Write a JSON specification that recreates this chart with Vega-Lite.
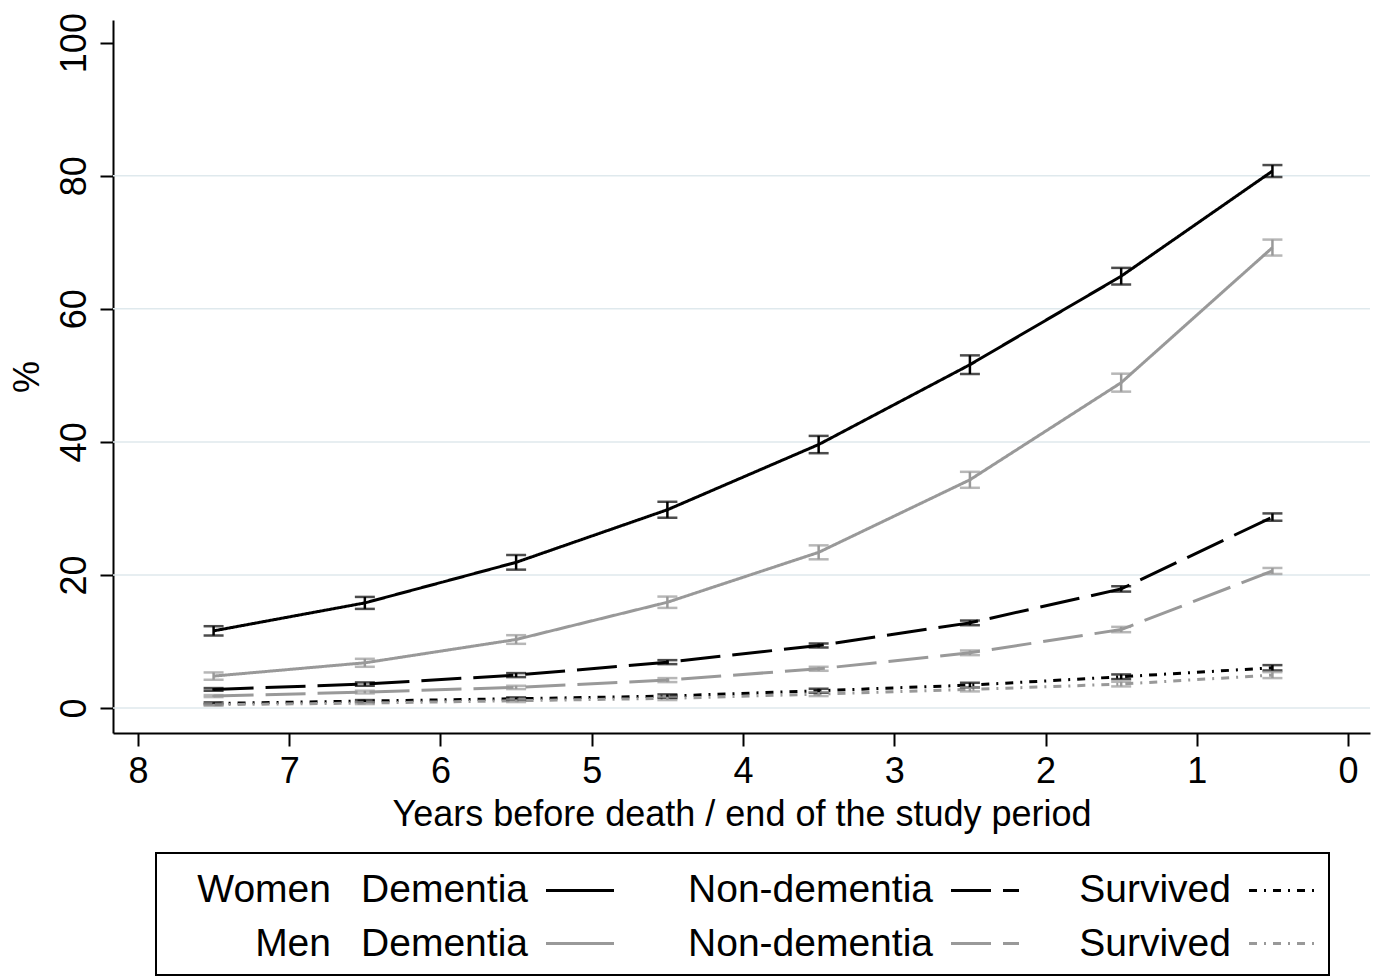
{
  "$schema": "https://vega.github.io/schema/vega-lite/v6.json",
  "background": "white",
  "padding": {"left": 9, "top": 12, "right": 0, "bottom": 0},
  "config": {
    "font": "Liberation Sans",
    "view": {"stroke": null},
    "axis": {
      "labelFontSize": 36, "titleFontSize": 36, "titleFontWeight": "normal",
      "labelColor": "black", "titleColor": "black",
      "domainColor": "black", "domainWidth": 2,
      "tickColor": "black", "tickWidth": 2, "tickSize": 13,
      "grid": false, "labelFlush": false, "labelOverlap": false
    }
  },
  "datasets": {
    "series": [
      {"sex": "Women", "group": "Dementia", "x": 7.5, "y": 11.6, "lo": 10.9, "hi": 12.3},
      {"sex": "Women", "group": "Dementia", "x": 6.5, "y": 15.8, "lo": 14.9, "hi": 16.7},
      {"sex": "Women", "group": "Dementia", "x": 5.5, "y": 21.9, "lo": 20.8, "hi": 23.0},
      {"sex": "Women", "group": "Dementia", "x": 4.5, "y": 29.8, "lo": 28.6, "hi": 31.0},
      {"sex": "Women", "group": "Dementia", "x": 3.5, "y": 39.6, "lo": 38.3, "hi": 40.9},
      {"sex": "Women", "group": "Dementia", "x": 2.5, "y": 51.6, "lo": 50.2, "hi": 53.0},
      {"sex": "Women", "group": "Dementia", "x": 1.5, "y": 64.9, "lo": 63.65, "hi": 66.15},
      {"sex": "Women", "group": "Dementia", "x": 0.5, "y": 80.7, "lo": 79.8, "hi": 81.6},
      {"sex": "Men", "group": "Dementia", "x": 7.5, "y": 4.8, "lo": 4.25, "hi": 5.35},
      {"sex": "Men", "group": "Dementia", "x": 6.5, "y": 6.8, "lo": 6.2, "hi": 7.4},
      {"sex": "Men", "group": "Dementia", "x": 5.5, "y": 10.3, "lo": 9.65, "hi": 10.95},
      {"sex": "Men", "group": "Dementia", "x": 4.5, "y": 15.9, "lo": 15.05, "hi": 16.75},
      {"sex": "Men", "group": "Dementia", "x": 3.5, "y": 23.4, "lo": 22.35, "hi": 24.45},
      {"sex": "Men", "group": "Dementia", "x": 2.5, "y": 34.3, "lo": 33.1, "hi": 35.5},
      {"sex": "Men", "group": "Dementia", "x": 1.5, "y": 48.9, "lo": 47.55, "hi": 50.25},
      {"sex": "Men", "group": "Dementia", "x": 0.5, "y": 69.2, "lo": 68.0, "hi": 70.4},
      {"sex": "Women", "group": "Non-dementia", "x": 7.5, "y": 2.8, "lo": 2.6, "hi": 3.0},
      {"sex": "Women", "group": "Non-dementia", "x": 6.5, "y": 3.6, "lo": 3.35, "hi": 3.85},
      {"sex": "Women", "group": "Non-dementia", "x": 5.5, "y": 4.95, "lo": 4.65, "hi": 5.25},
      {"sex": "Women", "group": "Non-dementia", "x": 4.5, "y": 6.9, "lo": 6.6, "hi": 7.2},
      {"sex": "Women", "group": "Non-dementia", "x": 3.5, "y": 9.4, "lo": 9.1, "hi": 9.7},
      {"sex": "Women", "group": "Non-dementia", "x": 2.5, "y": 12.8, "lo": 12.45, "hi": 13.15},
      {"sex": "Women", "group": "Non-dementia", "x": 1.5, "y": 17.9, "lo": 17.5, "hi": 18.3},
      {"sex": "Women", "group": "Non-dementia", "x": 0.5, "y": 28.7, "lo": 28.15, "hi": 29.25},
      {"sex": "Men", "group": "Non-dementia", "x": 7.5, "y": 1.8, "lo": 1.65, "hi": 1.95},
      {"sex": "Men", "group": "Non-dementia", "x": 6.5, "y": 2.4, "lo": 2.2, "hi": 2.6},
      {"sex": "Men", "group": "Non-dementia", "x": 5.5, "y": 3.1, "lo": 2.85, "hi": 3.35},
      {"sex": "Men", "group": "Non-dementia", "x": 4.5, "y": 4.2, "lo": 3.9, "hi": 4.5},
      {"sex": "Men", "group": "Non-dementia", "x": 3.5, "y": 5.9, "lo": 5.6, "hi": 6.2},
      {"sex": "Men", "group": "Non-dementia", "x": 2.5, "y": 8.3, "lo": 7.95, "hi": 8.65},
      {"sex": "Men", "group": "Non-dementia", "x": 1.5, "y": 11.8, "lo": 11.4, "hi": 12.2},
      {"sex": "Men", "group": "Non-dementia", "x": 0.5, "y": 20.6, "lo": 20.15, "hi": 21.05},
      {"sex": "Women", "group": "Survived", "x": 7.5, "y": 0.7, "lo": 0.55, "hi": 0.85},
      {"sex": "Women", "group": "Survived", "x": 6.5, "y": 1.05, "lo": 0.9, "hi": 1.2},
      {"sex": "Women", "group": "Survived", "x": 5.5, "y": 1.4, "lo": 1.2, "hi": 1.6},
      {"sex": "Women", "group": "Survived", "x": 4.5, "y": 1.8, "lo": 1.55, "hi": 2.05},
      {"sex": "Women", "group": "Survived", "x": 3.5, "y": 2.6, "lo": 2.3, "hi": 2.9},
      {"sex": "Women", "group": "Survived", "x": 2.5, "y": 3.45, "lo": 3.1, "hi": 3.8},
      {"sex": "Women", "group": "Survived", "x": 1.5, "y": 4.7, "lo": 4.35, "hi": 5.05},
      {"sex": "Women", "group": "Survived", "x": 0.5, "y": 6.05, "lo": 5.65, "hi": 6.45},
      {"sex": "Men", "group": "Survived", "x": 7.5, "y": 0.5, "lo": 0.35, "hi": 0.65},
      {"sex": "Men", "group": "Survived", "x": 6.5, "y": 0.75, "lo": 0.6, "hi": 0.9},
      {"sex": "Men", "group": "Survived", "x": 5.5, "y": 1.1, "lo": 0.9, "hi": 1.3},
      {"sex": "Men", "group": "Survived", "x": 4.5, "y": 1.45, "lo": 1.2, "hi": 1.7},
      {"sex": "Men", "group": "Survived", "x": 3.5, "y": 2.1, "lo": 1.8, "hi": 2.4},
      {"sex": "Men", "group": "Survived", "x": 2.5, "y": 2.8, "lo": 2.5, "hi": 3.1},
      {"sex": "Men", "group": "Survived", "x": 1.5, "y": 3.6, "lo": 3.25, "hi": 3.95},
      {"sex": "Men", "group": "Survived", "x": 0.5, "y": 4.95, "lo": 4.5, "hi": 5.4}
    ],
    "grid": [{"g": 0}, {"g": 20}, {"g": 40}, {"g": 60}, {"g": 80}],
    "legendRows": [{"sex": "Women"}, {"sex": "Men"}],
    "legend": [
      {"sex": "Women", "group": "Dementia", "c": 1},
      {"sex": "Women", "group": "Non-dementia", "c": 2},
      {"sex": "Women", "group": "Survived", "c": 3},
      {"sex": "Men", "group": "Dementia", "c": 1},
      {"sex": "Men", "group": "Non-dementia", "c": 2},
      {"sex": "Men", "group": "Survived", "c": 3}
    ]
  },
  "spacing": 20,
  "resolve": {"scale": {"x": "independent", "y": "independent"}},
  "vconcat": [
    {
      "width": 1257,
      "height": 713,
      "layer": [
        {
          "data": {"name": "grid"},
          "mark": {"type": "rule", "color": "#dfe9ed", "strokeWidth": 1.5},
          "encoding": {
            "y": {"field": "g", "type": "quantitative", "title": "%"}
          }
        },
        {
          "data": {"name": "series"},
          "mark": {"type": "line", "strokeWidth": 3},
          "encoding": {
            "x": {
              "field": "x", "type": "quantitative",
              "scale": {"domain": [-0.145, 8.165], "reverse": true, "nice": false, "zero": false},
              "axis": {"values": [0, 1, 2, 3, 4, 5, 6, 7, 8], "format": "d", "labelPadding": 8, "titlePadding": 8},
              "title": "Years before death / end of the study period"
            },
            "y": {
              "field": "y", "type": "quantitative",
              "scale": {"domain": [-3.75, 103.4], "nice": false, "zero": false},
              "axis": {"values": [0, 20, 40, 60, 80, 100], "format": "d", "labelAngle": 270, "labelAlign": "center", "labelBaseline": "alphabetic", "labelPadding": 15, "titlePadding": 10},
              "title": "%"
            },
            "color": {
              "field": "sex", "type": "nominal",
              "scale": {"domain": ["Women", "Men"], "range": ["#000000", "#999999"]},
              "legend": null
            },
            "strokeDash": {
              "field": "group", "type": "nominal",
              "scale": {"domain": ["Dementia", "Non-dementia", "Survived"], "range": [[1, 0], [40, 12], [8, 7, 2, 7]]},
              "legend": null
            },
            "order": {"field": "x", "sort": "descending"}
          }
        },
        {
          "data": {"name": "series"},
          "mark": {"type": "errorbar", "ticks": {"size": 20, "thickness": 2.5}, "rule": {"strokeWidth": 2.5}},
          "encoding": {
            "x": {"field": "x", "type": "quantitative", "title": "Years before death / end of the study period"},
            "y": {"field": "lo", "type": "quantitative", "title": "%"},
            "y2": {"field": "hi"},
            "color": {"field": "sex", "type": "nominal", "legend": null}
          }
        }
      ]
    },
    {
      "spacing": 0,
      "hconcat": [
        {
          "width": 42,
          "height": 122,
          "data": {"values": [{}]},
          "mark": {"type": "point", "opacity": 0}
        },
        {
          "width": 1173,
          "height": 122,
          "view": {"stroke": "black", "strokeWidth": 2},
          "layer": [
            {
              "data": {"name": "legendRows"},
              "mark": {"type": "text", "align": "right", "baseline": "middle", "fontSize": 39, "color": "black", "dy": 3},
              "encoding": {
                "x": {"datum": 0, "type": "quantitative", "scale": {"domain": [0, 1, 2, 3], "range": [175, 390, 795, 1093], "nice": false, "zero": false}, "axis": null},
                "y": {"field": "sex", "type": "nominal", "scale": {"type": "point", "domain": ["Women", "Men"], "padding": 0.65}, "axis": null},
                "text": {"field": "sex"}
              }
            },
            {
              "data": {"name": "legend"},
              "mark": {"type": "text", "align": "right", "baseline": "middle", "fontSize": 39, "color": "black", "dx": -18, "dy": 3},
              "encoding": {
                "x": {"field": "c", "type": "quantitative", "axis": null},
                "y": {"field": "sex", "type": "nominal", "axis": null},
                "text": {"field": "group"}
              }
            },
            {
              "data": {"name": "legend"},
              "mark": {"type": "rule", "strokeWidth": 3, "x2Offset": 68, "yOffset": 3, "y2Offset": 3},
              "encoding": {
                "x": {"field": "c", "type": "quantitative", "axis": null},
                "x2": {"field": "c"},
                "y": {"field": "sex", "type": "nominal", "axis": null},
                "color": {"field": "sex", "type": "nominal", "scale": {"domain": ["Women", "Men"], "range": ["#000000", "#999999"]}, "legend": null},
                "strokeDash": {"field": "group", "type": "nominal", "scale": {"domain": ["Dementia", "Non-dementia", "Survived"], "range": [[1, 0], [40, 12], [8, 7, 2, 7]]}, "legend": null}
              }
            }
          ]
        }
      ]
    }
  ]
}
